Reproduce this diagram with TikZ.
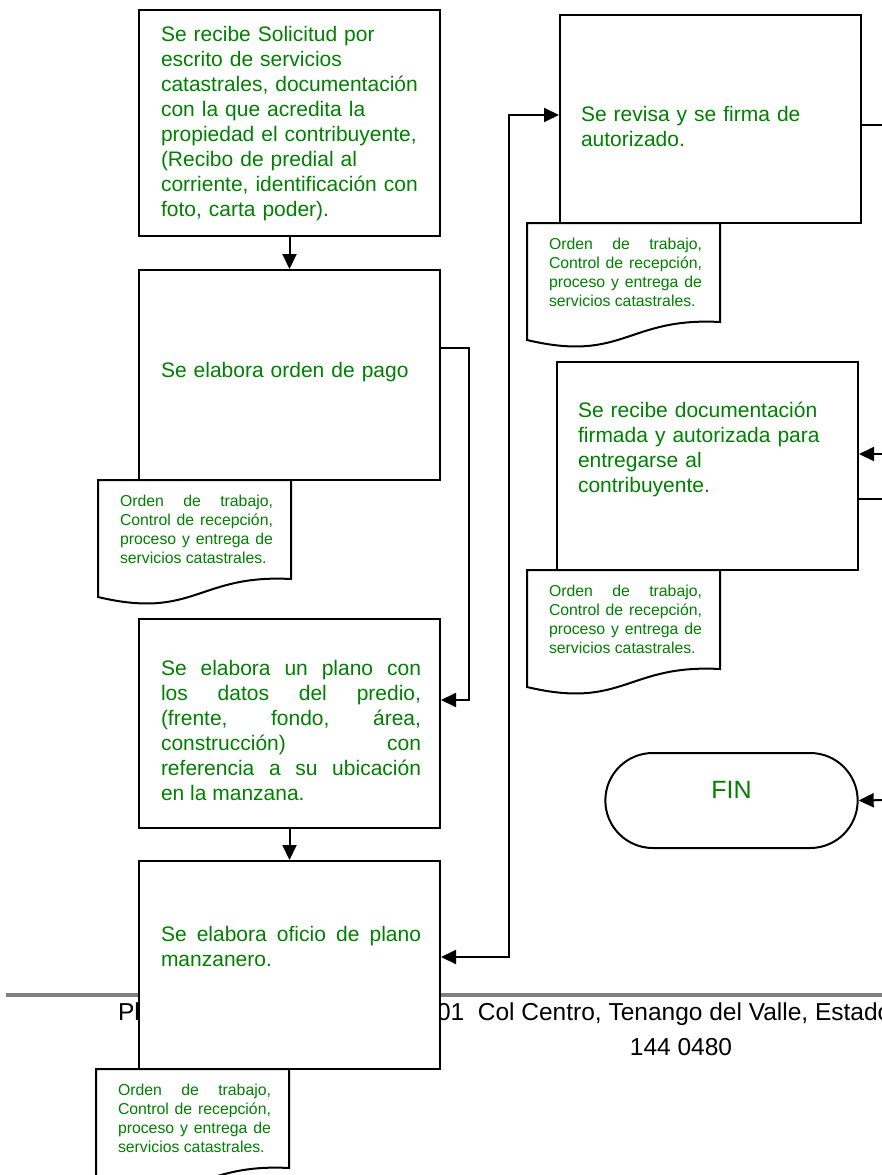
\documentclass[tikz,border=0pt]{standalone}
\usepackage{fontspec}
\setmainfont{Liberation Sans}
\usetikzlibrary{arrows.meta,shapes.misc}
\definecolor{txtgreen}{RGB}{0,128,0}
\definecolor{rulegray}{RGB}{128,128,128}

\begin{document}
\begin{tikzpicture}[x = 1pt, y = -1pt, line width = 2pt,
                      proc/.style = {rectangle, draw, fill = white, minimum width = 301pt, inner sep = 0pt},
                      boxtxt/.style = {anchor = north west, inner sep = 0pt, text width = 260pt, text = txtgreen,
                                       font = \fontsize{21}{25}\selectfont},
                      doctxt/.style = {anchor = north west, inner sep = 0pt, text width = 153pt, align = justify,
                                       text = txtgreen, font = \fontsize{15.8}{18.7}\selectfont},
                      term/.style = {rounded rectangle, draw, fill = white, minimum width = 259pt, minimum height = 95pt,
                                     text = txtgreen, font = \fontsize{25}{30}\selectfont, text height = 18pt, text depth = 22pt},
                      foot/.style = {inner sep = 0pt, font = \fontsize{24.5}{28}\selectfont},
                      flow/.style = {-{Triangle[length = 15pt, width = 14pt]}},
                      bothflow/.style = {{Triangle[length = 15pt, width = 14pt]}-{Triangle[length = 15pt, width = 14pt]}},
                      ordenpic/.pic = {
                        \draw [fill = white] (0, 0) -- (193, 0) -- (193, 99)
                              .. controls (100, 94) and (96.5, 140) .. (0, 117) -- cycle;
                        \node [doctxt] (-txt) at (21, 14.5) {Orden de trabajo,\linebreak Control de recepción,\linebreak
                              proceso y entrega de\linebreak servicios catastrales.};
                      }]
    \useasboundingbox (0, 0) rectangle (882, 1175);
    \clip (0, 0) rectangle (882, 1175);

    % pie de pagina
    \draw [rulegray, line width = 4pt] (6, 995) -- (882, 995);
    \node [foot, anchor = base west] (f1) at (117, 1020) {Pl};
    \node [foot, anchor = base west] (f2) at (436, 1020) {01\ \ Col Centro, Tenango del Valle, Estado};
    \node [foot, anchor = base] (f3) at (681, 1055) {144 0480};

    % columna izquierda
    \node [proc, minimum height = 226pt] (b1) at (289.5, 123){};
    \node [proc, minimum height = 210pt] (b2) at (289.5, 375){};
    \node [proc, minimum height = 209pt] (b3) at (289.5, 723.5){};
    \node [proc, minimum height = 208pt] (b4) at (289.5, 965){};

    \node [boxtxt, align = left] (t1) at (160, 25) {Se recibe Solicitud por\\ escrito de servicios\\
          catastrales, documentación\\ con la que acredita la\\ propiedad el contribuyente,\\
          (Recibo de predial al\\ corriente, identificación con\\ foto, carta poder).};
    \node [boxtxt, align = left] (t2) at (160, 361) {Se elabora orden de pago};
    \node [boxtxt, align = justify] (t3) at (160, 659) {Se elabora un plano con\linebreak los datos del predio,\linebreak
          (frente, fondo, área,\linebreak construcción) con\linebreak referencia a su ubicación\linebreak en la manzana.};
    \node [boxtxt, align = justify] (t4) at (160, 925) {Se elabora oficio de plano\linebreak manzanero.};

    \pic (d1) at (98, 480) {ordenpic};
    \pic (d4) at (96, 1069) {ordenpic};

    % columna derecha
    \node [proc, minimum height = 208pt] (b5) at (710.5, 119){};
    \node [proc, minimum height = 208pt] (b6) at (707.5, 466){};
    \node [term] (fin) at (731.5, 800.5) {FIN};

    \node [boxtxt, align = left] (t5) at (580, 105) {Se revisa y se firma de\\ autorizado.};
    \node [boxtxt, align = left] (t6) at (577, 401) {Se recibe documentación\\ firmada y autorizada para\\
          entregarse al\\ contribuyente.};

    \pic (d5) at (527, 223) {ordenpic};
    \pic (d6) at (527, 570) {ordenpic};

    \coordinate (r5) at (890, 125);
    \coordinate (r6in) at (890, 454);
    \coordinate (r6out) at (890, 499);
    \coordinate (rfin) at (890, 800);

    \draw [flow] (b1) -- (b2);
    \draw [flow] ([yshift = 27pt]b2.east) -- ++(28, 0) |- ([yshift = 23.5pt]b3.east);
    \draw [flow] (b3) -- (b4);
    \draw [bothflow] ([yshift = 8pt]b4.east) -- ++(68, 0) |- ([yshift = 4pt]b5.west);
    \draw ([yshift = -6pt]b5.east) -- (r5);
    \draw [flow] (r6in) -- ([yshift = 12pt]b6.east);
    \draw ([yshift = -33pt]b6.east) -- (r6out);
    \draw [flow] (rfin) -- (fin.east);
    \end{tikzpicture}
\end{document}
